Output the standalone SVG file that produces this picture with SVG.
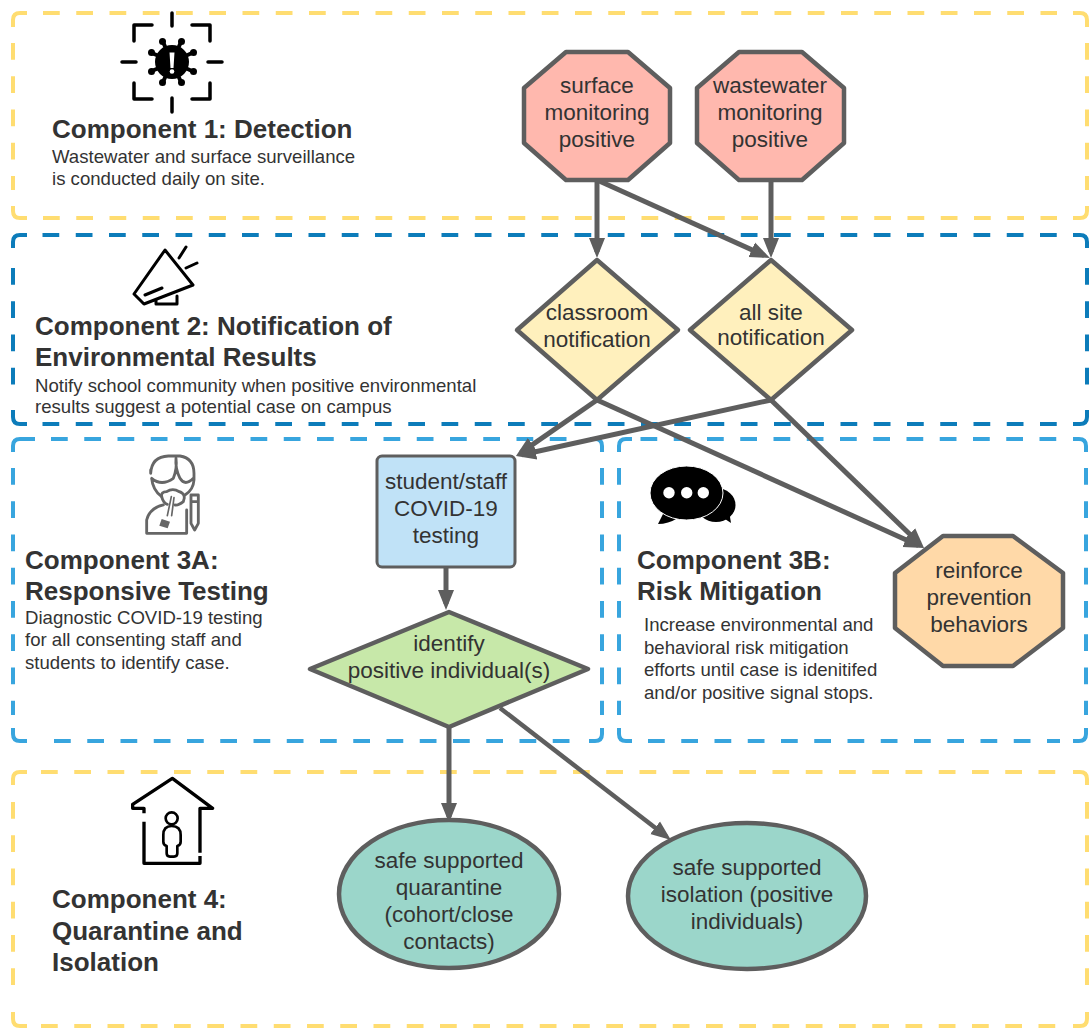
<svg xmlns="http://www.w3.org/2000/svg" width="1089" height="1028" viewBox="0 0 1089 1028">
<defs>
<marker id="ah" markerUnits="userSpaceOnUse" markerWidth="22" markerHeight="22" refX="14" refY="10" orient="auto"><path d="M0 2 L20 10 L0 18 Z" fill="#5e5e5e"/></marker>
</defs>
<style>
text{font-family:"Liberation Sans",Arial,sans-serif;fill:#333}
.z,.k{fill:none;stroke-width:4}
.z{stroke-dasharray:16.75 16.5}
.y{stroke:#ffdd71}.b{stroke:#0c7cba}.l{stroke:#38a5de}
.n{stroke:#5e5e5e;stroke-width:4.500;stroke-linejoin:round}
.c{fill:none;stroke:#5e5e5e;stroke-width:5;marker-end:url(#ah)}
.t{font-size:22.5px;text-anchor:middle}
.h{font-size:26px;font-weight:bold}
.d{font-size:18.6px}
.i{fill:none;stroke:#000;stroke-width:3.5;stroke-linecap:round;stroke-linejoin:round}
</style>
<g id="zones">
<g class="y">
<path class="k" d="M13 27V20Q13 13 20 13H27M1073 13H1080Q1087 13 1087 20V27M1087 206V211Q1087 218 1080 218H1073M27 218H20Q13 218 13 211V206"/>
<path class="z" d="M43 13H1057M43 218H1057M13 43V190M1087 43V190"/>
</g>
<g class="b">
<path class="k" d="M13 248V242Q13 235 20 235H27M1073 235H1080Q1087 235 1087 242V248M1087 410V417Q1087 424 1080 424H1073M27 424H20Q13 424 13 417V410"/>
<path class="z" d="M42.500 235H1057M42.500 424H1057M13 268V395M1087 268V395"/>
</g>
<g class="l">
<path class="k" d="M13 452V446Q13 439 20 439H35M590 439H595Q602 439 602 446V452M602 728V734Q602 741 595 741H589M27 741H20Q13 741 13 734V728"/>
<path class="z" d="M51 439H580M54 741H575M13 468V715M602 468V715"/>
<path class="k" d="M619 452V446Q619 439 626 439H632M1073 439H1079Q1086 439 1086 446V452M1086 728V734Q1086 741 1079 741H1073M632 741H626Q619 741 619 734V728"/>
<path class="z" d="M640.500 439H1060M648 741H1060M619 468V715M1086 468V715"/>
</g>
<g class="y">
<path class="k" d="M13 785V779Q13 772 20 772H27M1073 772H1080Q1087 772 1087 779V785M1087 1012V1019Q1087 1026 1080 1026H1073M27 1026H20Q13 1026 13 1019V1012"/>
<path class="z" d="M41 772H1057M41 1026H1057M13 802V1000M1087 802V1000"/>
</g>
</g>
<g id="connectors">
<path class="c" d="M597 180V252"/>
<path class="c" d="M597 180L764.500 255.500"/>
<path class="c" d="M771 180V252"/>
<path class="c" d="M597 400L520.900 452.600"/>
<path class="c" d="M771 400L521.900 454.700"/>
<path class="c" d="M597 400L918.500 545.500"/>
<path class="c" d="M771 400L919.700 543.800"/>
<path class="c" d="M446 567V604"/>
<path class="c" d="M449 727V817"/>
<path class="c" style="stroke-width:4.500" d="M500 708L666.200 836.300"/>
</g>
<g id="icon1">
<path class="i" d="M172 13V26M172 98V112M122 62H136M208 62H222M134 41V25H152M192 25H210V41M134 83V99H152M192 99H210V83"/>
<circle cx="172" cy="62" r="17" fill="#000"/>
<path style="stroke:#000;stroke-width:4;fill:none" d="M172 62L163 42M172 62L181 42M172 62L152 53M172 62L192 53M172 62L152 71M172 62L192 71M172 62L163 82M172 62L181 82"/>
<g fill="#000"><circle cx="162.500" cy="41.500" r="3.500"/><circle cx="181.500" cy="41.500" r="3.500"/><circle cx="151.500" cy="52.500" r="3.500"/><circle cx="193.500" cy="52.500" r="3.500"/><circle cx="151.500" cy="71.500" r="3.500"/><circle cx="193.500" cy="71.500" r="3.500"/><circle cx="162.500" cy="82.500" r="3.500"/><circle cx="181.500" cy="82.500" r="3.500"/></g>
<path d="M169.500 52.500h5l-1 15.500h-3z" fill="#fff"/><circle cx="172" cy="71.500" r="2.300" fill="#fff"/>
</g>
<g id="c1">
<text class="h" x="52" y="138">Component 1: Detection</text>
<text class="d" x="52" y="163">Wastewater and surface surveillance</text>
<text class="d" x="52" y="185">is conducted daily on site.</text>
</g>
<g id="icon2">
<path class="i" style="stroke-width:3" d="M165 250L193 285L144 304L134 294ZM145 295L162 288M156 300V304H177V296M179 258L186 247M186 268L197 263"/>
</g>
<g id="c2">
<text class="h" x="35" y="335">Component 2: Notification of</text>
<text class="h" x="35" y="366">Environmental Results</text>
<text class="d" x="35" y="392">Notify school community when positive environmental</text>
<text class="d" x="35" y="413">results suggest a potential case on campus</text>
</g>
<g id="icon3a" fill="none" stroke="#666" stroke-width="8.500" stroke-linecap="round" stroke-linejoin="round" transform="translate(130 445) scale(.3333)">
<path d="M62 75V85Q65 35 115 33H150Q192 40 192 85V105Q190 135 165 150M65 100Q95 125 130 100Q142 70 138 40M190 100Q165 125 150 100Q135 70 138 40M65 100Q68 135 95 155"/>
<path d="M95 155Q92 140 110 140Q128 128 148 140Q170 148 160 170Q145 182 135 180M95 155Q100 175 112 178"/>
<path d="M124 155L112 212M132 158L125 212" stroke-width="5"/>
<path d="M50 265V225Q58 190 100 180M170 195V265H50M183 150H205V235L194 255L183 235ZM183 170H205"/>
<path d="M95 222L120 230L113 250L88 242Z" fill="#666" stroke="none"/>
</g>
<g id="c3a">
<text class="h" x="25" y="569">Component 3A:</text>
<text class="h" x="25" y="600">Responsive Testing</text>
<text class="d" x="25" y="624">Diagnostic COVID-19 testing</text>
<text class="d" x="25" y="646">for all consenting staff and</text>
<text class="d" x="25" y="669">students to identify case.</text>
</g>
<g id="icon3b">
<ellipse cx="716" cy="505" rx="19.500" ry="17" fill="#000"/>
<path d="M722 517L731 523L729 511Z" fill="#000"/>
<path d="M664 512L658 524Q668 524 678 518Z" fill="#000"/>
<ellipse cx="686.500" cy="493" rx="36.500" ry="27" fill="#000" stroke="#fff" stroke-width="1"/>
<circle cx="669" cy="492.700" r="5.700" fill="#fff"/><circle cx="686.700" cy="492.700" r="5.700" fill="#fff"/><circle cx="703.300" cy="492.700" r="5.700" fill="#fff"/>
</g>
<g id="c3b">
<text class="h" x="637" y="569">Component 3B:</text>
<text class="h" x="637" y="600">Risk Mitigation</text>
<text class="d" x="644" y="631">Increase environmental and</text>
<text class="d" x="644" y="654">behavioral risk mitigation</text>
<text class="d" x="644" y="676">efforts until case is idenitifed</text>
<text class="d" x="644" y="699">and/or positive signal stops.</text>
</g>
<g id="icon4" fill="none" stroke="#000" stroke-width="10" stroke-linejoin="round" transform="translate(120 770) scale(.3333)">
<path d="M72 155V280H240V258M240 248V115H278L157 25L38 103V115H72V130"/>
<circle cx="155" cy="145" r="18" stroke-width="8"/>
<path stroke-width="8" d="M155 168Q130 168 130 195V215Q130 225 140 228V250Q140 260 150 260H162Q172 260 172 250V228Q182 225 182 215V195Q182 168 155 168Z"/>
</g>
<g id="c4">
<text class="h" x="52" y="908">Component 4:</text>
<text class="h" x="52" y="940">Quarantine and</text>
<text class="h" x="52" y="971">Isolation</text>
</g>
<g id="n-surface">
<path class="n" fill="#ffb8ae" d="M566 52H628L670 88V143L628 180H566L524 143V88Z"/>
<text class="t" x="597" y="93">surface</text><text class="t" x="597" y="120">monitoring</text><text class="t" x="597" y="147">positive</text>
</g>
<g id="n-wastewater">
<path class="n" fill="#ffb8ae" d="M739 52H802L844 88V143L802 180H739L697 143V88Z"/>
<text class="t" x="770" y="93">wastewater</text><text class="t" x="770" y="120">monitoring</text><text class="t" x="770" y="147">positive</text>
</g>
<g id="n-classroom">
<path class="n" fill="#fff0bd" d="M597 260L678 330L597 400L517 330Z"/>
<text class="t" x="597" y="320">classroom</text><text class="t" x="597" y="347">notification</text>
</g>
<g id="n-allsite">
<path class="n" fill="#fff0bd" d="M771 260L852 330L771 400L690 330Z"/>
<text class="t" x="771" y="320">all site</text><text class="t" x="771" y="345">notification</text>
</g>
<g id="n-testing">
<rect class="n" style="stroke-width:3" fill="#c0e2f7" x="377" y="456" width="138" height="111" rx="5"/>
<text class="t" x="446" y="489">student/staff</text><text class="t" x="446" y="516">COVID-19</text><text class="t" x="446" y="543">testing</text>
</g>
<g id="n-identify">
<path class="n" fill="#c7e8a9" d="M449 612L588 669L449 727L310 669Z"/>
<text class="t" x="449" y="651">identify</text><text class="t" x="449" y="678">positive individual(s)</text>
</g>
<g id="n-reinforce">
<path class="n" fill="#ffd9a8" d="M943 536H1013L1063 573V628L1013 666H943L895 628V573Z"/>
<text class="t" x="979" y="578">reinforce</text><text class="t" x="979" y="605">prevention</text><text class="t" x="979" y="632">behaviors</text>
</g>
<g id="n-quarantine">
<ellipse class="n" fill="#9bd6ca" cx="449" cy="894" rx="110" ry="74"/>
<text class="t" x="449" y="868">safe supported</text><text class="t" x="449" y="895">quarantine</text><text class="t" x="449" y="922">(cohort/close</text><text class="t" x="449" y="949">contacts)</text>
</g>
<g id="n-isolation">
<ellipse class="n" fill="#9bd6ca" cx="747" cy="896" rx="119" ry="73"/>
<text class="t" x="747" y="875">safe supported</text><text class="t" x="747" y="902">isolation (positive</text><text class="t" x="747" y="929">individuals)</text>
</g>
</svg>
